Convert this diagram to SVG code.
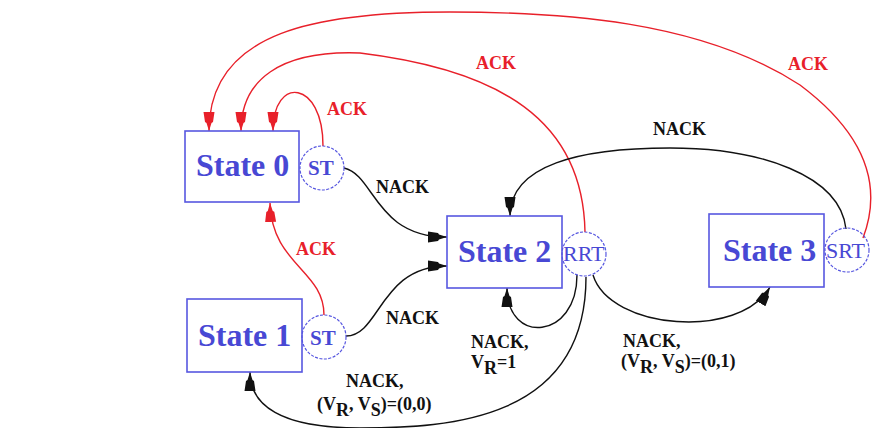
<svg xmlns="http://www.w3.org/2000/svg" width="872" height="428" viewBox="0 0 872 428">
<defs>
<style>
.box{fill:none;stroke:#5757e0;stroke-width:1.6}
.circ{fill:none;stroke:#5757e0;stroke-width:1.2;stroke-dasharray:3 1.5}
.st{font-family:"Liberation Serif",serif;font-weight:bold;font-size:32px;fill:#4848d4}
.ct{font-family:"Liberation Serif",serif;font-weight:bold;font-size:21px;fill:#4848d4}
.ct2{font-family:"Liberation Serif",serif;font-size:22px;fill:#4848d4}
.red{fill:none;stroke:#e8202a;stroke-width:1.4}
.blk{fill:none;stroke:#111;stroke-width:1.4}
.lr{font-family:"Liberation Serif",serif;font-weight:bold;font-size:18px;fill:#e8202a}
.lb{font-family:"Liberation Serif",serif;font-weight:bold;font-size:18px;fill:#111}
</style>
<marker id="ar" markerUnits="userSpaceOnUse" markerWidth="20" markerHeight="12" refX="19" refY="6" orient="auto"><path d="M0,0.5 L10,2 L11,3.5 L19,6 L11,8.5 L10,10 L0,11.5 z" fill="#e8202a"/></marker>
<marker id="ab" markerUnits="userSpaceOnUse" markerWidth="20" markerHeight="12" refX="19" refY="6" orient="auto"><path d="M0,0.5 L10,2 L11,3.5 L19,6 L11,8.5 L10,10 L0,11.5 z" fill="#111"/></marker>
</defs>
<g id="connectors">
<path class="red" marker-end="url(#ar)" d="M863,238 C885,180 860,130 800,85 C700,20 560,12 450,12 C320,12 209,30 209,131"/>
<path class="red" marker-end="url(#ar)" d="M585,232 C583,120 500,70 360,53 C280,50 241,80 241,131"/>
<path class="red" marker-end="url(#ar)" d="M323,146 C323,80 273,75 273,131"/>
<path class="red" marker-end="url(#ar)" d="M324,315 C324,270 272,265 270,203"/>
<path class="blk" marker-end="url(#ab)" d="M344,168 C375,175 375,237 447,237"/>
<path class="blk" marker-end="url(#ab)" d="M346,336 C380,336 380,266 447,266"/>
<path class="blk" marker-end="url(#ab)" d="M846,229 C840,175 760,148 670,148 C580,148 510,165 510,216"/>
<path class="blk" marker-end="url(#ab)" d="M577,275 C577,340 507,345 507,288"/>
<path class="blk" marker-end="url(#ab)" d="M586,277 C586,420 450,428 360,428 C280,428 250,405 250,372"/>
<path class="blk" marker-end="url(#ab)" d="M593,275 C610,330 740,340 770,287"/>
<text class="lr" x="476" y="69">ACK</text>
<text class="lr" x="327" y="115">ACK</text>
<text class="lr" x="788" y="70">ACK</text>
<text class="lr" x="296" y="255">ACK</text>
<text class="lb" x="376" y="193">NACK</text>
<text class="lb" x="653" y="135">NACK</text>
<text class="lb" x="386" y="324">NACK</text>
<text class="lb" x="471" y="348">NACK,</text>
<text class="lb" x="471" y="368">V<tspan dy="6">R</tspan><tspan dy="-6">=1</tspan></text>
<text class="lb" x="346" y="387">NACK,</text>
<text class="lb" x="317" y="410">(V<tspan dy="6">R</tspan><tspan dy="-6">, V</tspan><tspan dy="6">S</tspan><tspan dy="-6">)=(0,0)</tspan></text>
<text class="lb" x="623" y="347">NACK,</text>
<text class="lb" x="621" y="367">(V<tspan dy="6">R</tspan><tspan dy="-6">, V</tspan><tspan dy="6">S</tspan><tspan dy="-6">)=(0,1)</tspan></text>
</g>
<g id="state0">
<rect class="box" x="185" y="131" width="114" height="71"/>
<text class="st" x="196" y="176">State 0</text>
<circle class="circ" cx="322" cy="168" r="22"/>
<text class="ct" x="308" y="175">ST</text>
</g>
<g id="state1">
<rect class="box" x="187" y="299" width="115" height="73"/>
<text class="st" x="198" y="346">State 1</text>
<circle class="circ" cx="324" cy="337" r="22"/>
<text class="ct" x="310" y="345">ST</text>
</g>
<g id="state2">
<rect class="box" x="447" y="216" width="115" height="72"/>
<text class="st" x="458" y="262">State 2</text>
<circle class="circ" cx="584" cy="254" r="22"/>
<text class="ct2" x="563" y="261">RRT</text>
</g>
<g id="state3">
<rect class="box" x="709" y="214" width="115" height="73"/>
<text class="st" x="723" y="261">State 3</text>
<circle class="circ" cx="847" cy="250" r="22"/>
<text class="ct2" x="826" y="258">SRT</text>
</g>
</svg>
